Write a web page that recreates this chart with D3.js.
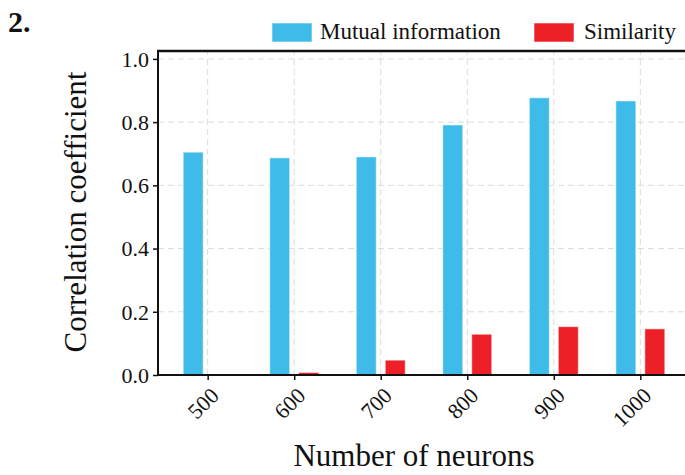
<!DOCTYPE html>
<html>
<head>
<meta charset="utf-8">
<script src="https://cdn.jsdelivr.net/npm/d3@7"></script>
<style>
    body { margin: 0; background: #fff; }
    svg text { font-family: "Liberation Serif", "Times New Roman", serif; fill: #111; }
</style>
</head>
<body>
<div id="chart"></div>
<script>
(function () {
    // data
    var neurons = ["500", "600", "700", "800", "900", "1000"];
    var mutualInfo = [0.705, 0.687, 0.690, 0.791, 0.877, 0.867];
    var similarity = [0.000, 0.008, 0.047, 0.129, 0.153, 0.146];
    var seriesNames = ["Mutual information", "Similarity"];
    var seriesColors = ["#3fbbea", "#ee2027"];
    var yTicks = [0.0, 0.2, 0.4, 0.6, 0.8, 1.0];

    var width = 685, height = 475;
    var margin = { top: 51, left: 158, bottom: 100 };
    var plotRight = 690; // frame runs past the right edge in the original
    var serif = "Liberation Serif, Times New Roman, serif";

    var svg = d3.select("#chart")
        .append("svg")
        .attr("width", width)
        .attr("height", height);

    var x = d3.scalePoint()
        .domain(neurons)
        .range([margin.left, plotRight])
        .padding(0.574);

    var y = d3.scaleLinear()
        .domain([0, 1.025])
        .range([height - margin.bottom, margin.top]);

    var step = x.step();
    var xSub = d3.scaleBand()
        .domain([0, 1])
        .range([-0.283 * step, 0.283 * step])
        .paddingInner(0.31);

    // grid
    var grid = svg.append("g").attr("class", "grid");
    grid.selectAll("line.h")
        .data(yTicks.slice(1))
        .enter().append("line")
        .attr("class", "h")
        .attr("x1", margin.left)
        .attr("x2", plotRight)
        .attr("y1", d => y(d))
        .attr("y2", d => y(d));
    grid.selectAll("line.v")
        .data(neurons)
        .enter().append("line")
        .attr("class", "v")
        .attr("x1", d => x(d))
        .attr("x2", d => x(d))
        .attr("y1", y(0))
        .attr("y2", margin.top);
    grid.selectAll("line")
        .attr("stroke", "#dcdcdc")
        .attr("stroke-width", 1)
        .attr("stroke-dasharray", "6,4");

    // bars
    var rows = neurons.map(function (n, i) {
        return { n: n, vals: [mutualInfo[i], similarity[i]] };
    });

    var groups = svg.selectAll(".grp")
        .data(rows)
        .enter().append("g")
        .attr("class", "grp")
        .attr("transform", d => "translate(" + x(d.n) + ",0)");

    groups.selectAll("rect")
        .data(d => d.vals.map((v, k) => ({ k: k, v: v })).filter(e => e.v > 0))
        .enter().append("rect")
        .attr("x", e => xSub(e.k))
        .attr("width", xSub.bandwidth())
        .attr("y", e => y(e.v))
        .attr("height", e => y(0) - y(e.v))
        .attr("fill", e => seriesColors[e.k])
        .attr("stroke", "rgba(255,255,255,0.55)")
        .attr("stroke-width", 1);

    // axes
    var yAxis = svg.append("g")
        .attr("transform", "translate(" + margin.left + ",0)")
        .call(d3.axisLeft(y).tickValues(yTicks).tickFormat(d3.format(".1f")).tickSize(5).tickPadding(4));
    yAxis.select(".domain").remove();
    yAxis.selectAll("text")
        .style("font-family", serif)
        .style("font-size", "22px")
        .attr("dy", "0.33em");
    yAxis.selectAll("line").attr("stroke", "#111").attr("stroke-width", 1.5);

    var xAxis = svg.append("g")
        .attr("transform", "translate(0," + y(0) + ")")
        .call(d3.axisBottom(x).tickSize(5));
    xAxis.select(".domain").remove();
    xAxis.selectAll("line").attr("stroke", "#111").attr("stroke-width", 1.5);
    xAxis.selectAll("text")
        .style("font-family", serif)
        .style("font-size", "22px")
        .attr("text-anchor", "end")
        .attr("dy", null)
        .attr("y", 0)
        .attr("transform", "translate(12,22) rotate(-45)");

    // frame: left, bottom, top
    var frame = svg.append("g")
        .attr("fill", "none")
        .attr("stroke", "#111");
    frame.append("line")
        .attr("x1", margin.left).attr("x2", margin.left)
        .attr("y1", margin.top - 1).attr("y2", y(0) + 1)
        .attr("stroke-width", 2);
    frame.append("line")
        .attr("x1", margin.left - 1).attr("x2", plotRight)
        .attr("y1", y(0)).attr("y2", y(0))
        .attr("stroke-width", 2);
    frame.append("line")
        .attr("x1", margin.left - 1).attr("x2", plotRight)
        .attr("y1", margin.top).attr("y2", margin.top)
        .attr("stroke-width", 2.5);

    // axis titles
    svg.append("text")
        .attr("x", 414)
        .attr("y", 466)
        .attr("text-anchor", "middle")
        .style("font-size", "31px")
        .text("Number of neurons");

    svg.append("text")
        .attr("transform", "translate(86,212) rotate(-90)")
        .attr("text-anchor", "middle")
        .style("font-size", "31px")
        .text("Correlation coefficient");

    // panel label
    svg.append("text")
        .attr("x", 8)
        .attr("y", 32)
        .style("font-size", "30px")
        .style("font-weight", "bold")
        .text("2.");

    // legend
    var legendX = [272, 534];
    var legend = svg.selectAll(".leg")
        .data(seriesNames)
        .enter().append("g")
        .attr("class", "leg")
        .attr("transform", (d, i) => "translate(" + legendX[i] + ",23)");
    legend.append("rect")
        .attr("width", 40)
        .attr("height", 19)
        .attr("fill", (d, i) => seriesColors[i])
        .attr("stroke", "rgba(255,255,255,0.55)");
    legend.append("text")
        .attr("x", (d, i) => i === 0 ? 48 : 50)
        .attr("y", 16)
        .style("font-size", "23px")
        .text(d => d);
})();
</script>
</body>
</html>
